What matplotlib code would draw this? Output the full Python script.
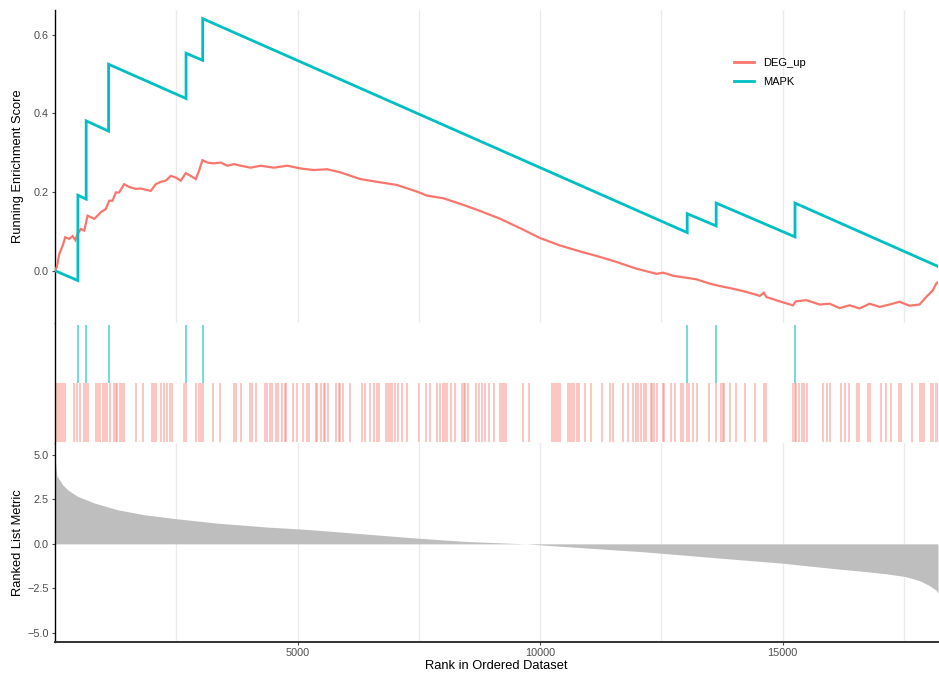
import matplotlib
matplotlib.use("Agg")
import matplotlib.pyplot as plt
from matplotlib.lines import Line2D

plt.rcParams['font.family'] = ['Liberation Sans', 'DejaVu Sans']

N_GENES = 18200

# Gene sets
set_names = ["DEG_up", "MAPK"]
set_colors = ["#F8766D", "#00BFC4"]

# MAPK: hit ranks, running score just before each hit and just after it
mapk_hits = [473, 644, 1105, 2702, 3045, 13031, 13628, 15253]
mapk_es_before = [-0.025, 0.182, 0.355, 0.438, 0.535, 0.097, 0.114, 0.086]
mapk_es_after = [0.192, 0.381, 0.525, 0.553, 0.641, 0.145, 0.172, 0.172]
mapk_es_end = 0.011

# DEG_up running enrichment score
deg_rank = [1, 40, 90, 160, 212, 295, 365, 420, 467, 535, 603, 673, 741, 810,
            878, 947, 1049, 1118, 1186, 1255, 1323, 1426, 1529, 1667, 1769,
            1872, 1975, 2031, 2078, 2181, 2284, 2387, 2490, 2593, 2695, 2798,
            2901, 2970, 3039, 3142, 3279, 3416, 3553, 3690, 3827, 4033, 4239,
            4513, 4787, 5062, 5336, 5611, 5885, 6296, 6639, 7051, 7463, 7668,
            8011, 8354, 8697, 9177, 9589, 10000, 10412, 10823, 11235, 11578,
            11989, 12401, 12538, 12743, 13018, 13224, 13498, 13704, 13978,
            14253, 14527, 14609, 14664, 14938, 15212, 15268, 15488, 15762,
            15967, 16173, 16379, 16584, 16790, 16996, 17201, 17407, 17613,
            17819, 17956, 18093, 18162, 18200]
deg_es = [0.000, 0.010, 0.043, 0.064, 0.085, 0.081, 0.088, 0.078, 0.094, 0.106,
          0.102, 0.140, 0.136, 0.132, 0.140, 0.149, 0.157, 0.178, 0.178, 0.199,
          0.199, 0.220, 0.213, 0.208, 0.209, 0.206, 0.203, 0.212, 0.220, 0.226,
          0.229, 0.241, 0.237, 0.229, 0.248, 0.241, 0.233, 0.254, 0.281, 0.275,
          0.273, 0.275, 0.267, 0.271, 0.267, 0.262, 0.267, 0.262, 0.267, 0.260,
          0.256, 0.258, 0.250, 0.233, 0.226, 0.218, 0.201, 0.191, 0.184, 0.170,
          0.155, 0.132, 0.108, 0.083, 0.064, 0.049, 0.035, 0.022, 0.005, -0.008,
          -0.005, -0.013, -0.018, -0.022, -0.033, -0.039, -0.046, -0.054, -0.064,
          -0.056, -0.067, -0.078, -0.088, -0.078, -0.075, -0.086, -0.084, -0.095,
          -0.088, -0.096, -0.084, -0.092, -0.086, -0.079, -0.089, -0.086, -0.067,
          -0.050, -0.033, -0.029]

# DEG_up hit ranks
deg_hits = [40, 80, 125, 165, 205, 385, 455, 510, 600, 645, 685, 845, 880, 930,
            980, 1030, 1080, 1130, 1220, 1250, 1275, 1345, 1385, 1425, 1667,
            1825, 2010, 2050, 2090, 2195, 2245, 2300, 2375, 2420, 2660, 2705,
            2915, 2960, 3010, 3060, 3251, 3395, 3680, 3725, 3841, 4020, 4065,
            4136, 4330, 4380, 4430, 4480, 4555, 4600, 4671, 4740, 4770, 4910,
            4980, 5120, 5185, 5241, 5375, 5405, 5490, 5535, 5575, 5623, 5800,
            5845, 5885, 5940, 6091, 6330, 6400, 6502, 6585, 6635, 6685, 6830,
            6870, 6915, 6950, 7010, 7070, 7154, 7257, 7496, 7655, 7720, 7875,
            7940, 7990, 8035, 8080, 8170, 8235, 8390, 8425, 8455, 8504, 8685,
            8740, 8800, 8868, 8936, 9053, 9175, 9220, 9260, 9300, 9644, 9767,
            10240, 10285, 10325, 10370, 10410, 10570, 10610, 10650, 10700,
            10750, 10810, 10926, 11049, 11269, 11440, 11510, 11714, 11817,
            11920, 11970, 12020, 12072, 12140, 12180, 12280, 12315, 12350,
            12401, 12525, 12560, 12689, 12778, 12900, 12935, 13020, 13070,
            13154, 13237, 13484, 13621, 13725, 13760, 13790, 13909, 14047,
            14217, 14422, 14610, 14645, 15215, 15245, 15270, 15336, 15405,
            15445, 15490, 15829, 15910, 15980, 16210, 16275, 16364, 16535,
            16570, 16755, 16805, 17016, 17133, 17236, 17395, 17440, 17668,
            17820, 17870, 17920, 18060, 18090, 18160, 18195]

# Ranked list metric
metric_rank = [1, 40, 90, 158, 261, 467, 810, 1290, 1838, 2524, 3347, 4376,
               5062, 5473, 7463, 8491, 9700, 11646, 12058, 12469, 13704, 14979,
               16105, 16700, 17133, 17500, 17681, 17850, 18031, 18162, 18200]
metric_val = [4.9, 3.8, 3.6, 3.31, 3.03, 2.66, 2.29, 1.91, 1.63, 1.40, 1.16,
              0.94, 0.83, 0.75, 0.32, 0.13, 0.0, -0.36, -0.43, -0.52, -0.80,
              -1.08, -1.40, -1.55, -1.68, -1.82, -1.95, -2.1, -2.35, -2.6, -2.75]

x_major = [5000, 10000, 15000]
x_minor = [2500, 7500, 12500, 17500]

# Assemble the MAPK step path
mapk_x, mapk_y = [1], [0.0]
for r, b, a in zip(mapk_hits, mapk_es_before, mapk_es_after):
    mapk_x += [r, r]
    mapk_y += [b, a]
mapk_x.append(N_GENES)
mapk_y.append(mapk_es_end)

W, H = 939, 675
fig = plt.figure(figsize=(W / 100, H / 100), dpi=100)
left = 55 / W
width = 883 / W


def frac(top_px, bottom_px):
    return [left, (H - bottom_px) / H, width, (bottom_px - top_px) / H]


ax_es = fig.add_axes(frac(10, 323))
ax_hit = fig.add_axes(frac(323, 443))
ax_rank = fig.add_axes(frac(443, 642))

tick_color = "#4D4D4D"
grid_color = "#EBEBEB"

for ax in (ax_es, ax_hit, ax_rank):
    ax.set_xlim(1, N_GENES)
    for s in ("top", "right", "bottom"):
        ax.spines[s].set_visible(False)
    ax.spines["left"].set_color("black")
    ax.spines["left"].set_linewidth(1.0)
    ax.set_facecolor("white")

for ax in (ax_es, ax_rank):
    for gx in x_major + x_minor:
        ax.axvline(gx, color=grid_color, lw=1.0, zorder=0)

# Running enrichment score
ax_es.plot(deg_rank, deg_es, color=set_colors[0], lw=1.6, zorder=3,
           solid_joinstyle="miter")
ax_es.plot(mapk_x, mapk_y, color=set_colors[1], lw=2.0, zorder=4,
           solid_joinstyle="miter")
ax_es.set_ylim(-0.133, 0.663)
ax_es.set_yticks([0.0, 0.2, 0.4, 0.6])
ax_es.set_yticklabels(["0.0", "0.2", "0.4", "0.6"])
ax_es.set_xticks([])
ax_es.tick_params(axis="y", colors=tick_color, labelsize=7.8, length=2.5,
                  width=0.8, pad=2)
ax_es.set_ylabel("Running Enrichment Score", fontsize=9.3, color="black")
ax_es.yaxis.set_label_coords(-0.035, 0.5)

handles = [Line2D([], [], color=c, lw=2.0) for c in set_colors]
ax_es.legend(handles, set_names, loc="center", bbox_to_anchor=(0.81, 0.80),
             frameon=False, fontsize=8, handlelength=1.8, labelspacing=0.8)

# Hit positions
ax_hit.set_ylim(0, 1)
ax_hit.vlines(mapk_hits, 0.5, 0.98, color=set_colors[1], lw=1.3, alpha=0.6)
ax_hit.vlines(deg_hits, 0.01, 0.5, color=set_colors[0], lw=1.3, alpha=0.45)
ax_hit.set_xticks([])
ax_hit.set_yticks([])

# Ranked list metric
ax_rank.fill_between(metric_rank, 0, metric_val, color="#BEBEBE", lw=0)
ax_rank.set_ylim(-5.5, 5.65)
ax_rank.set_yticks([5.0, 2.5, 0.0, -2.5, -5.0])
ax_rank.set_yticklabels(["5.0", "2.5", "0.0", "\u22122.5", "\u22125.0"])
ax_rank.set_xticks(x_major)
ax_rank.set_xticklabels([str(v) for v in x_major])
ax_rank.spines["bottom"].set_visible(True)
ax_rank.spines["bottom"].set_color("#333333")
ax_rank.spines["bottom"].set_linewidth(1.4)
ax_rank.tick_params(colors=tick_color, labelsize=7.8, length=2.5, width=0.8,
                    pad=2)
ax_rank.set_ylabel("Ranked List Metric", fontsize=9.3, color="black")
ax_rank.yaxis.set_label_coords(-0.035, 0.5)
ax_rank.set_xlabel("Rank in Ordered Dataset", fontsize=9.3, color="black",
                   labelpad=1)

fig.savefig("out.png", dpi=100)
